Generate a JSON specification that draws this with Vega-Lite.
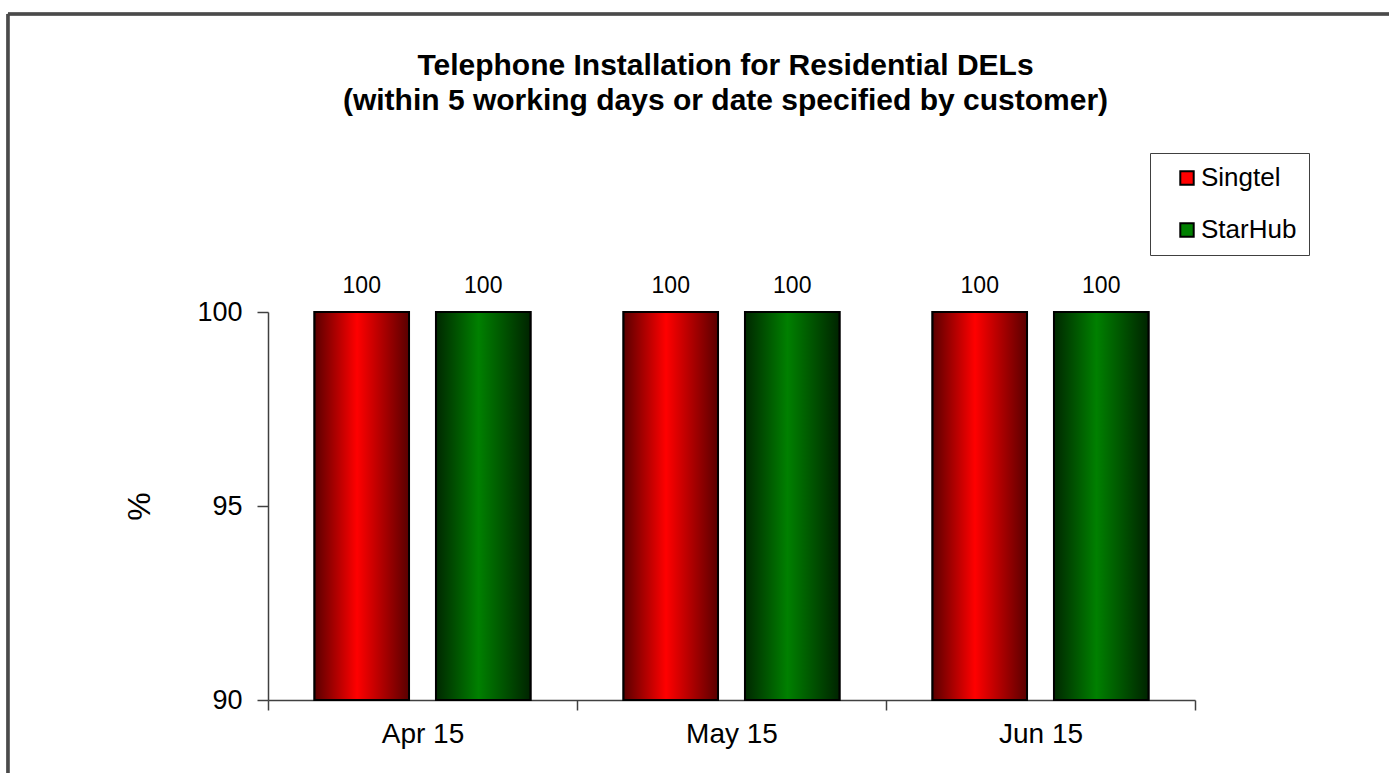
{
  "$schema": "https://vega.github.io/schema/vega-lite/v6.json",
  "width": 927,
  "height": 388,
  "autosize": {"type": "none"},
  "padding": {"left": 268, "top": 312, "right": 194, "bottom": 73},
  "background": "white",
  "config": {
    "font": "Liberation Sans",
    "view": {"stroke": null}
  },
  "title": {
    "text": ["Telephone Installation for Residential DELs", "(within 5 working days or date specified by customer)"],
    "font": "Liberation Sans",
    "fontSize": 30,
    "fontWeight": "bold",
    "color": "#000000",
    "lineHeight": 35,
    "anchor": "middle",
    "frame": "group",
    "baseline": "alphabetic",
    "offset": -127,
    "dx": -6
  },
  "data": {
    "values": [
      {"month": "Apr 15", "series": "Singtel", "value": 100},
      {"month": "Apr 15", "series": "StarHub", "value": 100},
      {"month": "May 15", "series": "Singtel", "value": 100},
      {"month": "May 15", "series": "StarHub", "value": 100},
      {"month": "Jun 15", "series": "Singtel", "value": 100},
      {"month": "Jun 15", "series": "StarHub", "value": 100}
    ]
  },
  "layer": [
    {
      "encoding": {
        "x": {
          "field": "month",
          "type": "nominal",
          "sort": ["Apr 15", "May 15", "Jun 15"],
          "scale": {"paddingInner": 0, "paddingOuter": 0},
          "axis": {
            "title": null,
            "labelAngle": 0,
            "labelFontSize": 28,
            "labelColor": "#000000",
            "labelPadding": 10,
            "tickBand": "extent",
            "tickSize": 10,
            "tickColor": "#404040",
            "tickWidth": 1.5,
            "domainColor": "#404040",
            "domainWidth": 1.5
          }
        },
        "xOffset": {
          "field": "series",
          "type": "nominal",
          "scale": {"domain": ["Singtel", "StarHub"], "paddingInner": 0.222, "paddingOuter": 0.383}
        },
        "y": {
          "field": "value",
          "type": "quantitative",
          "scale": {"domain": [90, 100], "zero": false, "nice": false},
          "axis": {
            "title": "%",
            "titleFontSize": 32,
            "titleFontWeight": "normal",
            "titleColor": "#000000",
            "titleX": -112,
            "values": [90, 95, 100],
            "grid": false,
            "labelFontSize": 27,
            "labelColor": "#000000",
            "labelPadding": 15,
            "tickSize": 11,
            "tickColor": "#404040",
            "tickWidth": 1.5,
            "domainColor": "#404040",
            "domainWidth": 1.5
          }
        }
      },
      "layer": [
        {
          "mark": {"type": "bar", "stroke": "#000000", "strokeWidth": 2},
          "encoding": {
            "y2": {"datum": 90},
            "color": {
              "field": "series",
              "type": "nominal",
              "scale": {"domain": ["Singtel", "StarHub"], "range": ["#ff0000", "#008000"]},
              "legend": {
                "title": null,
                "orient": "none",
                "legendX": 882,
                "legendY": -159,
                "padding": 12,
                "strokeColor": "#404040",
                "fillColor": "white",
                "symbolType": "square",
                "symbolSize": 180,
                "symbolOpacity": 1,
                "symbolStrokeColor": "#000000",
                "symbolStrokeWidth": 2,
                "symbolOffset": 12,
                "labelFontSize": 26,
                "labelColor": "#000000",
                "labelOffset": 1,
                "labelExpr": "datum.label + '\u00a0\u00a0\u00a0'",
                "rowPadding": 26
              }
            }
          }
        },
        {
          "transform": [{"filter": "datum.series === 'Singtel'"}],
          "mark": {
            "type": "bar",
            "stroke": "#000000",
            "strokeWidth": 2,
            "color": {"gradient": "linear", "x1": 0, "x2": 1, "y1": 0, "y2": 0, "stops": [{"offset": 0, "color": "#5a0000"}, {"offset": 0.45, "color": "#ff0000"}, {"offset": 1, "color": "#5a0000"}]}
          },
          "encoding": {"y2": {"datum": 90}}
        },
        {
          "transform": [{"filter": "datum.series === 'StarHub'"}],
          "mark": {
            "type": "bar",
            "stroke": "#000000",
            "strokeWidth": 2,
            "color": {"gradient": "linear", "x1": 0, "x2": 1, "y1": 0, "y2": 0, "stops": [{"offset": 0, "color": "#002800"}, {"offset": 0.45, "color": "#008000"}, {"offset": 1, "color": "#002400"}]}
          },
          "encoding": {"y2": {"datum": 90}}
        },
        {
          "mark": {"type": "text", "fontSize": 23, "baseline": "alphabetic", "dy": -19, "color": "#000000"},
          "encoding": {
            "text": {"field": "value", "type": "quantitative"}
          }
        }
      ]
    },
    {
      "mark": {"type": "rule", "color": "#4a4a4a", "strokeWidth": 2.5},
      "encoding": {
        "x": {"datum": -0.2805, "type": "quantitative", "scale": {"domain": [0, 1], "nice": false, "zero": false}, "axis": null},
        "x2": {"datum": 1.22},
        "y": {"datum": 107.68, "type": "quantitative", "scale": {"domain": [90, 100], "zero": false, "nice": false}}
      }
    },
    {
      "mark": {"type": "rule", "color": "#4a4a4a", "strokeWidth": 2.5},
      "encoding": {
        "x": {"datum": -0.2805, "type": "quantitative", "scale": {"domain": [0, 1], "nice": false, "zero": false}, "axis": null},
        "y": {"datum": 107.68, "type": "quantitative", "scale": {"domain": [90, 100], "zero": false, "nice": false}},
        "y2": {"datum": 87.9}
      }
    }
  ],
  "resolve": {"scale": {"x": "independent"}}
}
